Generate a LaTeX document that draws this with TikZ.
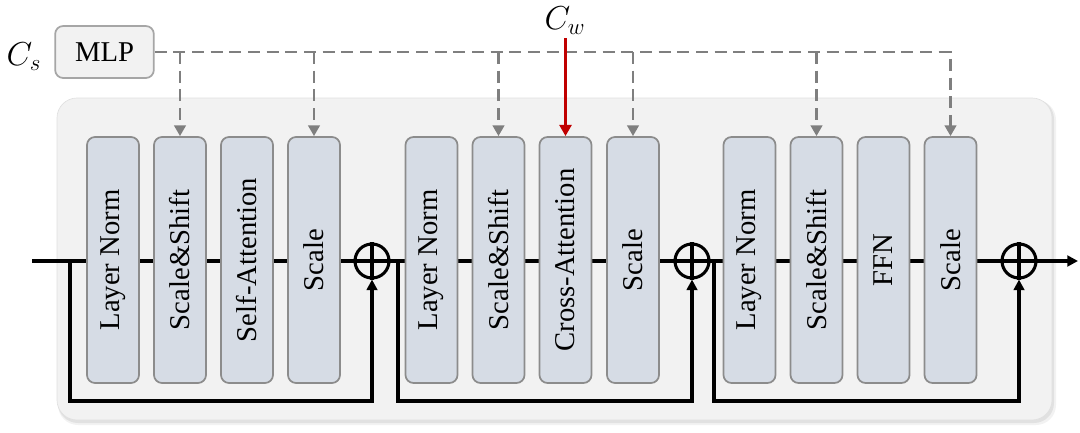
\documentclass[tikz,border=0pt]{standalone}
\usepackage{fontspec}
\setmainfont{Liberation Serif}
\usetikzlibrary{arrows.meta}
\pgfdeclarelayer{bg}
\pgfdeclarelayer{lines}
\pgfsetlayers{bg,lines,main}
\definecolor{blockfill}{HTML}{D6DCE5}
\definecolor{blockline}{HTML}{8C8C8C}
\definecolor{panel}{HTML}{F2F2F2}
\definecolor{mlpline}{HTML}{A6A6A6}
\definecolor{dashc}{HTML}{7F7F7F}
\definecolor{redc}{HTML}{C00000}
\begin{document}
\begin{tikzpicture}[x=0.75pt,y=-0.75pt,
  blk/.style={draw=blockline, line width=1.3pt, fill=blockfill, rounded corners=6pt,
    rotate=90, minimum width=184.5pt, minimum height=39pt, inner sep=0pt,
    font=\fontsize{21.5}{24}\selectfont},
  sum/.style={circle, draw=black, line width=2.3pt, minimum size=25.5pt, inner sep=0pt, fill=panel},
  mainln/.style={line width=2.3pt, draw=black},
  resid/.style={mainln, -{Triangle[length=8pt,width=8pt]}},
  cond/.style={draw=dashc, line width=2.2pt, dash pattern=on 9pt off 5pt,
    -{Triangle[length=8pt,width=8.5pt]}},
  redarr/.style={draw=redc, line width=2.3pt, -{Triangle[length=8.5pt,width=9pt]}},
  mlpbox/.style={draw=mlpline, line width=1.3pt, fill=panel, rounded corners=6pt,
    minimum width=74pt, minimum height=39pt, inner sep=0pt, font=\fontsize{21.5}{24}\selectfont},
  condlbl/.style={inner sep=0pt, font=\fontsize{25}{28}\selectfont},
]
\useasboundingbox (0,0) rectangle (1080,432);

% panel with shadow
\begin{pgfonlayer}{bg}
  \fill[black, opacity=0.05, rounded corners=15pt] (58,100) rectangle (1056,425);
  \fill[black, opacity=0.07, rounded corners=15pt] (58,99) rectangle (1054,423);
  \path[fill=panel, draw=black!12, line width=0.5pt, rounded corners=15pt] (57,98) rectangle (1052,420);
\end{pgfonlayer}

% blocks
\node[blk] (a1) at (113,260) {Layer Norm};
\node[blk] (a2) at (180,260) {Scale\&Shift};
\node[blk] (a3) at (247,260) {Self-Attention};
\node[blk] (a4) at (314,260) {Scale};
\node[blk] (b1) at (431.5,260) {Layer Norm};
\node[blk] (b2) at (498.5,260) {Scale\&Shift};
\node[blk] (b3) at (565.5,260) {Cross-Attention};
\node[blk] (b4) at (633,260) {Scale};
\node[blk] (c1) at (749.5,260) {Layer Norm};
\node[blk] (c2) at (816.5,260) {Scale\&Shift};
\node[blk] (c3) at (883.5,260) {FFN};
\node[blk] (c4) at (950.5,260) {Scale};

% sums
\node[sum] (s1) at (372,261) {};
\node[sum] (s2) at (692,261) {};
\node[sum] (s3) at (1019,261) {};
\foreach \s in {s1,s2,s3}{
  \draw[line width=2.3pt] (\s.north) -- (\s.south) (\s.west) -- (\s.east);
}

% main line and residuals
\coordinate (in) at (32,261);
\coordinate (out) at (1078,261);
\coordinate (r1) at (70,261);
\coordinate (r2) at (398,261);
\coordinate (r3) at (714,261);
\begin{pgfonlayer}{lines}
  \draw[mainln] (in) -- (s1.west);
  \draw[mainln] (s1.east) -- (s2.west);
  \draw[mainln] (s2.east) -- (s3.west);
  \draw[resid] (s3.east) -- (out);
  \draw[resid] (r1) -- ++(0,140) -| (s1.south);
  \draw[resid] (r2) -- ++(0,140) -| (s2.south);
  \draw[resid] (r3) -- ++(0,140) -| (s3.south);
\end{pgfonlayer}

% MLP and conditioning
\node[mlpbox] (mlp) at (104.5,52) {MLP};
\node[condlbl] (cs) at (24,57) {$C_s$};
\node[condlbl] (cw) at (565,21) {$C_w$};
\coordinate (d1) at (180,52);
\coordinate (d2) at (314,52);
\coordinate (d3) at (498.5,52);
\coordinate (d4) at (633,52);
\coordinate (d5) at (816.5,52);
\coordinate (d6) at (950.5,52);
\draw[cond] (mlp.east) -- (d6) -- (c4.east);
\draw[cond] (d1) -- (a2.east);
\draw[cond] (d2) -- (a4.east);
\draw[cond] (d3) -- (b2.east);
\draw[cond] (d4) -- (b4.east);
\draw[cond] (d5) -- (c2.east);
\coordinate (cwfoot) at (565.5,38);
\draw[redarr] (cwfoot) -- (b3.east);
\end{tikzpicture}
\end{document}
